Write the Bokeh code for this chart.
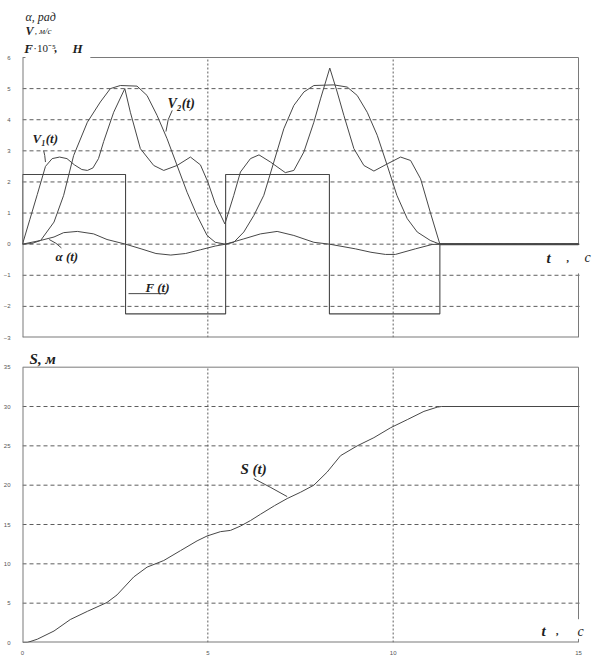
from bokeh.plotting import figure
from bokeh.models import Label, FixedTicker, Range1d
from bokeh.layouts import column
from bokeh.embed import file_html
from bokeh.resources import INLINE

# ---------------- data ----------------
t_v1 = [0, 0.2, 0.4, 0.62, 0.8, 1.0, 1.2, 1.4, 1.6, 1.75, 1.9, 2.05, 2.19, 2.46, 2.76,
        2.91, 3.18, 3.54, 3.81, 4.17, 4.53, 4.8, 5.0, 5.2, 5.46, 5.7, 5.88, 6.15, 6.38,
        6.69, 7.09, 7.32, 7.59, 7.86, 8.04, 8.29, 8.49, 8.67, 8.94, 9.21, 9.48, 9.84,
        10.2, 10.47, 10.74, 11.0, 11.26, 15]
v1 = [0, 0.8, 1.6, 2.5, 2.75, 2.8, 2.75, 2.55, 2.4, 2.37, 2.45, 2.75, 3.3, 4.24, 5.0,
      4.24, 3.07, 2.53, 2.37, 2.53, 2.8, 2.55, 2.0, 1.3, 0.65, 1.57, 2.32, 2.75, 2.87,
      2.64, 2.3, 2.37, 2.96, 3.92, 4.67, 5.66, 4.89, 4.14, 3.07, 2.53, 2.35, 2.58,
      2.8, 2.69, 2.1, 1.03, 0, 0]

t_v2 = [0, 0.25, 0.49, 0.85, 1.11, 1.38, 1.75, 2.1, 2.37, 2.64, 3.09, 3.36, 3.63, 3.9,
        4.17, 4.44, 4.71, 4.98, 5.2, 5.48, 5.7, 5.97, 6.24, 6.51, 6.78, 7.05, 7.32, 7.59,
        7.86, 8.4, 8.76, 9.03, 9.3, 9.57, 9.84, 10.1, 10.38, 10.65, 11.0, 11.26, 15]
v2 = [0, 0.02, 0.12, 0.71, 1.57, 2.85, 3.92, 4.57, 5.0, 5.1, 5.08, 4.78, 4.14, 3.39,
      2.53, 1.67, 0.92, 0.28, 0.06, 0.0, 0.06, 0.39, 0.92, 1.57, 2.64, 3.71, 4.46, 4.89,
      5.1, 5.12, 5.05, 4.78, 4.24, 3.5, 2.53, 1.57, 0.82, 0.39, 0.12, 0, 0]

t_alpha = [0, 0.49, 0.85, 1.11, 1.48, 1.92, 2.28, 2.78, 3.2, 3.6, 4.0, 4.4, 4.8, 5.2,
           5.48, 5.97, 6.42, 6.87, 7.32, 7.86, 8.28, 8.98, 9.4, 9.79, 10.06, 10.6,
           11.05, 11.26, 15]
alpha = [0, 0.12, 0.23, 0.37, 0.41, 0.33, 0.15, 0, -0.15, -0.3, -0.35, -0.3, -0.18,
         -0.06, 0, 0.17, 0.33, 0.41, 0.28, 0.06, 0, -0.15, -0.26, -0.33, -0.33, -0.15,
         -0.01, 0, 0]

t_force = [0, 0, 2.78, 2.78, 5.48, 5.48, 8.28, 8.28, 11.26, 11.26, 15]
force = [0, 2.24, 2.24, -2.24, -2.24, 2.24, 2.24, -2.24, -2.24, 0, 0]

t_s = [0, 0.13, 0.4, 0.85, 1.29, 1.75, 2.28, 2.55, 3.0, 3.36, 3.81, 4.26, 4.71, 4.98,
       5.34, 5.61, 5.88, 6.15, 6.42, 6.8, 7.14, 7.5, 7.86, 8.22, 8.58, 9.03, 9.48,
       9.93, 10.38, 10.83, 11.19, 11.3, 15]
s = [0, 0, 0.42, 1.46, 2.92, 3.96, 5.09, 6.05, 8.33, 9.58, 10.42, 11.67, 12.92, 13.54,
     14.09, 14.25, 14.8, 15.5, 16.3, 17.4, 18.3, 19.1, 20.0, 21.67, 23.75, 25.0, 26.04,
     27.3, 28.33, 29.38, 29.92, 30, 30]

x_ticks = [0, 5, 10, 15]
y1_ticks = [-3, -2, -1, 0, 1, 2, 3, 4, 5, 6]
y2_ticks = [0, 5, 10, 15, 20, 25, 30, 35]

# ---------------- styling ----------------
CURVE = "#474747"
FRAME = "#7a7a7a"
GRID = "#5e5e5e"
SERIF = "Liberation Serif"
SANS = "Liberation Sans"

X0, X1 = x_ticks[0], x_ticks[-1]
PX_PER_T = 37.07          # horizontal scale of both panels (px per second)
LEFT = 22                 # room for the value labels


def make_fig(height, bottom, yticks, panel_h, show_xlabels):
    y0, y1 = yticks[0], yticks[-1]
    frame_h = height - bottom
    ytop = y0 + frame_h * (y1 - y0) / panel_h      # extra room above the panel for titles
    xend = X1 + 17 / PX_PER_T                      # extra room right of the panel
    p = figure(width=595, height=height, x_range=Range1d(X0, xend), y_range=Range1d(y0, ytop),
               output_backend="svg", toolbar_location=None,
               min_border_left=LEFT, min_border_right=0,
               min_border_top=0, min_border_bottom=bottom)
    p.outline_line_color = None
    p.background_fill_color = "white"
    p.border_fill_color = "white"
    p.grid.visible = False
    for ax in p.yaxis:
        ax.ticker = FixedTicker(ticks=yticks)
        ax.axis_line_color = None
        ax.major_tick_line_color = None
        ax.minor_tick_line_color = None
        ax.major_label_text_font = SANS
        ax.major_label_text_font_size = "6px"
        ax.major_label_text_color = "#555555"
        ax.major_label_standoff = 6
    for ax in p.xaxis:
        ax.ticker = FixedTicker(ticks=x_ticks if show_xlabels else [])
        ax.axis_line_color = None
        ax.major_tick_line_color = None
        ax.minor_tick_line_color = None
        ax.major_label_text_font = SANS
        ax.major_label_text_font_size = "6px" if show_xlabels else "0px"
        ax.major_label_text_color = "#555555"
        ax.major_label_standoff = 2
    # grid lines, limited to the panel
    inner_y = yticks[1:-1]
    p.segment(x0=[X0] * len(inner_y), x1=[X1 + 0.1] * len(inner_y), y0=inner_y, y1=inner_y,
              line_color=GRID, line_width=1, line_dash="4 3")
    inner_x = x_ticks[1:-1]
    p.segment(x0=inner_x, x1=inner_x, y0=[y0] * len(inner_x), y1=[y1] * len(inner_x),
              line_color=GRID, line_width=1, line_dash="2 2")
    # left and bottom frame edges lie on the frame boundary (outer half clipped)
    p.segment(x0=[X0, X0], y0=[y0, y0], x1=[X0, X1], y1=[y1, y0],
              line_color=FRAME, line_width=2)
    return p


def lab(p, x, y, text, size, style="bold italic", font=SERIF, align="left"):
    p.add_layout(Label(x=x, y=y, text=text, text_font=font, text_font_size=size,
                       text_font_style=style, text_color="#1e1e1e", text_align=align,
                       text_baseline="middle"))


# ---------------- top figure ----------------
p1 = make_fig(348, 11, y1_ticks, 280.0, False)
# top edge (broken by the titles) and right edge (broken by the "t, c" label)
p1.segment(x0=[1.83, 0, X1, X1], y0=[6, 6, 6, -0.94],
           x1=[X1, 0.08, X1, X1], y1=[6, 6, -0.01, -3],
           line_color=FRAME, line_width=1)

p1.line(t_force, force, line_color=CURVE, line_width=1.1)
p1.line(t_alpha, alpha, line_color=CURVE, line_width=1)
p1.line(t_v2, v2, line_color=CURVE, line_width=1)
p1.line(t_v1, v1, line_color=CURVE, line_width=1)
p1.line([11.26, X1], [0, 0], line_color=CURVE, line_width=2)

# leader lines of the curve labels
p1.line([0.57, 0.6, 0.62], [3.01, 2.85, 2.64], line_color=CURVE, line_width=1)
p1.line([4.04, 3.93, 3.87], [4.3, 4.0, 3.62], line_color=CURVE, line_width=1)
p1.line([0.72, 0.9, 1.05], [0.15, 0.03, -0.12], line_color=CURVE, line_width=1)
p1.line([2.86, 3.86], [-1.59, -1.59], line_color=CURVE, line_width=1)

lab(p1, 0.27, 3.40, "V\u2081(t)", "13px")
lab(p1, 3.91, 4.52, "V\u2082(t)", "14px")
lab(p1, 0.89, -0.40, "\u03b1   (t)", "13px")
lab(p1, 3.32, -1.39, "F   (t)", "13px")

# axis titles
lab(p1, 0.08, 7.29, "\u03b1, рад", "12px", style="italic")
lab(p1, 0.08, 6.84, "V", "12px")
lab(p1, 0.33, 6.84, " , м/с", "9px", style="italic")
lab(p1, 0.05, 6.29, "F", "13px")
lab(p1, 0.29, 6.29, "\u00b710\u207b\u2075", "11px", style="normal")
lab(p1, 0.86, 6.29, ",", "12px")
lab(p1, 1.35, 6.29, "Н", "13px")

lab(p1, 14.14, -0.46, "t", "15px")
lab(p1, 14.68, -0.46, ",", "11px")
lab(p1, 15.16, -0.43, "c", "14px", style="italic")

# ---------------- bottom figure ----------------
p2 = make_fig(309, 10, y2_ticks, 280.0, True)
p2.segment(x0=[X0, X1, X1], y0=[35, 35, 0.46],
           x1=[X1, X1, X1], y1=[35, 2.96, 0],
           line_color=FRAME, line_width=1)

p2.line(t_s, s, line_color=CURVE, line_width=1)
p2.line([6.24, 6.7, 7.14], [20.84, 19.7, 18.55], line_color=CURVE, line_width=1)
lab(p2, 5.88, 22.09, "S  (t)", "15px")

lab(p2, 0.19, 36.09, "S, м", "15px")
lab(p2, 14.0, 1.46, "t", "15px")
lab(p2, 14.4, 1.46, ",", "11px")
lab(p2, 14.97, 1.46, "c", "14px", style="italic")

layout = column(p1, p2, spacing=0)
open("out.html", "w").write(file_html(layout, INLINE))
